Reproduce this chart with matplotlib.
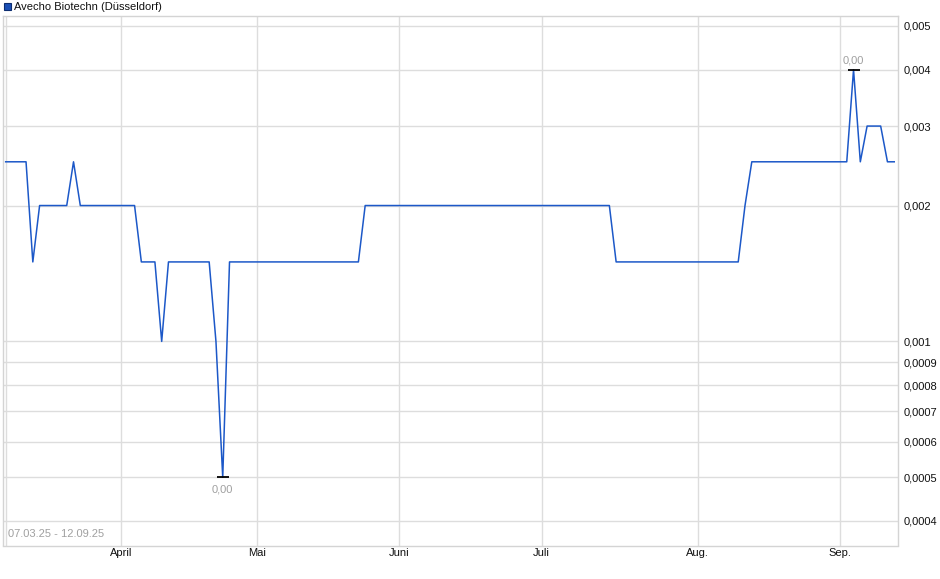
import numpy as np
import pandas as pd
import matplotlib
matplotlib.use("Agg")
import matplotlib.pyplot as plt
from matplotlib.patches import Rectangle

plt.rcParams['font.family'] = ['Liberation Sans', 'DejaVu Sans']

# ---------------------------------------------
#  Data: Avecho Biotechn (Duesseldorf), daily close
# ---------------------------------------------
title = "Avecho Biotechn (Düsseldorf)"
period = "07.03.25 - 12.09.25"

# trading days (Duesseldorf holidays removed)
holidays = ["2025-04-18", "2025-04-21", "2025-05-01"]
days = pd.bdate_range("2025-03-07", "2025-09-11", freq="C", holidays=holidays)

prices_mar = [0.0025, 0.0025, 0.0025, 0.0025, 0.0015, 0.002, 0.002, 0.002,
              0.002, 0.002, 0.0025, 0.002, 0.002, 0.002, 0.002, 0.002, 0.002]
prices_apr = [0.002, 0.002, 0.002, 0.0015, 0.0015, 0.0015, 0.001, 0.0015,
              0.0015, 0.0015, 0.0015, 0.0015, 0.0015, 0.0015, 0.001, 0.0005,
              0.0015, 0.0015, 0.0015, 0.0015]
prices_may = [0.0015, 0.0015, 0.0015, 0.0015, 0.0015, 0.0015, 0.0015, 0.0015,
              0.0015, 0.0015, 0.0015, 0.0015, 0.0015, 0.0015, 0.0015, 0.0015,
              0.002, 0.002, 0.002, 0.002, 0.002]
prices_jun = [0.002, 0.002, 0.002, 0.002, 0.002, 0.002, 0.002, 0.002, 0.002,
              0.002, 0.002, 0.002, 0.002, 0.002, 0.002, 0.002, 0.002, 0.002,
              0.002, 0.002, 0.002]
prices_jul = [0.002, 0.002, 0.002, 0.002, 0.002, 0.002, 0.002, 0.002, 0.002,
              0.002, 0.002, 0.0015, 0.0015, 0.0015, 0.0015, 0.0015, 0.0015,
              0.0015, 0.0015, 0.0015, 0.0015, 0.0015, 0.0015]
prices_aug = [0.0015, 0.0015, 0.0015, 0.0015, 0.0015, 0.0015, 0.0015, 0.002,
              0.0025, 0.0025, 0.0025, 0.0025, 0.0025, 0.0025, 0.0025, 0.0025,
              0.0025, 0.0025, 0.0025, 0.0025, 0.0025]
prices_sep = [0.0025, 0.0025, 0.004, 0.0025, 0.003, 0.003, 0.003, 0.0025,
              0.0025]
prices = prices_mar + prices_apr + prices_may + prices_jun + prices_jul + prices_aug + prices_sep

month_labels = ["April", "Mai", "Juni", "Juli", "Aug.", "Sep."]
month_starts = ["2025-04-01", "2025-05-01", "2025-06-01", "2025-07-01",
                "2025-08-01", "2025-09-01"]

ytick_vals = [0.005, 0.004, 0.003, 0.002, 0.001, 0.0009, 0.0008, 0.0007,
              0.0006, 0.0005, 0.0004]
ytick_labels = ["0,005", "0,004", "0,003", "0,002", "0,001", "0,0009",
                "0,0008", "0,0007", "0,0006", "0,0005", "0,0004"]
extreme_label = "0,00"

# ---------------------------------------------
#  Figure
# ---------------------------------------------
W, H = 940, 579
fig = plt.figure(figsize=(W / 100, H / 100), dpi=100)
ax = fig.add_axes([2.5 / W, (H - 545.5) / H, (898.3 - 2.5) / W, (545.5 - 16) / H])

x = np.arange(len(prices))
y = np.array(prices)
line_color = "#1c58c8"
grid_color = "#dddddd"

ax.plot(x, y, color=line_color, lw=1.1, zorder=3)

ax.set_yscale("log")
ax.set_ylim(0.000353, 0.00526)
ax.set_xlim(-0.47, 131.6)

# y ticks on the right
ax.yaxis.tick_right()
ax.set_yticks(ytick_vals)
ax.set_yticklabels(ytick_labels)
ax.yaxis.set_minor_locator(matplotlib.ticker.NullLocator())
ax.tick_params(axis="y", length=0, pad=4, labelsize=8, labelcolor="#111111")

# month ticks at first trading day of each month
mpos = [int(np.searchsorted(days, pd.Timestamp(d))) for d in month_starts]
ax.set_xticks(mpos)
ax.set_xticklabels(month_labels)
ax.tick_params(axis="x", length=0, pad=2, labelsize=8, labelcolor="#111111")

ax.grid(True, color=grid_color, lw=1, zorder=0)
ax.axvline(0, color=grid_color, lw=1, zorder=0)
for s in ax.spines.values():
    s.set_color("#d4d4d4")
    s.set_linewidth(1)

# min / max markers
imin = int(np.argmin(y))
imax = int(np.argmax(y))
for i, dy, va in [(imin, -5, "top"), (imax, 3, "bottom")]:
    ax.plot([x[i]], [y[i]], marker="_", ms=9, mew=1.3, color="black", zorder=4)
    ax.annotate(extreme_label, (x[i], y[i]), xytext=(0, dy),
                textcoords="offset points", ha="center", va=va,
                fontsize=8, color="#a0a0a0")

# period text
ax.text(0.006, 0.012, period, transform=ax.transAxes, fontsize=8,
        color="#a0a0a0", ha="left", va="bottom")

# legend entry at top
fig.patches.append(Rectangle((4 / W, (H - 10) / H), 7 / W, 7 / H,
                             transform=fig.transFigure, facecolor="#1a4fb5",
                             edgecolor="#0d2d70", lw=0.8))
fig.text(14 / W, (H - 6.5) / H, title, fontsize=8, color="#111111",
         ha="left", va="center")

fig.savefig("out.png", dpi=100)
